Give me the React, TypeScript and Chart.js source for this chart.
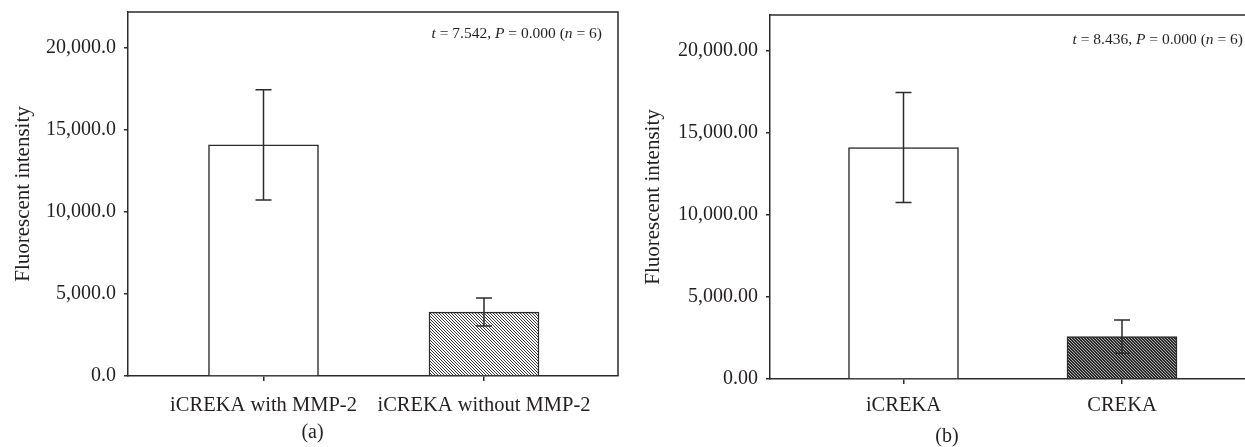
import React, { useEffect, useRef } from 'react';
import { Chart, registerables } from 'chart.js';

Chart.register(...registerables);

// ---- Data ----
const categoriesA = ['iCREKA with MMP-2', 'iCREKA without MMP-2'];
const meansA = [14100, 3900];
const errorsA = [3360, 855];

const categoriesB = ['iCREKA', 'CREKA'];
const meansB = [14120, 2580];
const errorsB = [3355, 1015];

const yTickValues = [0, 5000, 10000, 15000, 20000];
const yMax = 22200;

const statA = [
  { t: 't', i: true }, { t: ' = 7.542, ', i: false }, { t: 'P', i: true },
  { t: ' = 0.000 (', i: false }, { t: 'n', i: true }, { t: ' = 6)', i: false },
];
const statB = [
  { t: 't', i: true }, { t: ' = 8.436, ', i: false }, { t: 'P', i: true },
  { t: ' = 0.000 (', i: false }, { t: 'n', i: true }, { t: ' = 6)', i: false },
];

const FONT = "'Liberation Serif', 'Times New Roman', serif";
const TEXT = '#231f20';
const LINE = '#2b2b2b';

function makeHatch(bg: string, fg: string, size: number) {
  const c = document.createElement('canvas');
  c.width = size;
  c.height = size;
  const g = c.getContext('2d')!;
  g.fillStyle = bg;
  g.fillRect(0, 0, size, size);
  g.fillStyle = fg;
  for (let i = 0; i < size; i++) g.fillRect(i, i, 1, 1);
  return g.createPattern(c, 'repeat');
}

interface PanelCfg {
  categories: string[];
  means: number[];
  errors: number[];
  decimals: number;
  fills: any[];
  stat: { t: string; i: boolean }[];
  statX: number;
  statY: number;
  sub: string;
  subX: number;
  subY: number;
  padTop: number;
  padRight: number;
  yWidth: number;
  xHeight: number;
  xMin: number;
  xMax: number;
  titlePad: number;
  tickPad: number;
  rightBorder: boolean;
}

function buildChart(canvas: HTMLCanvasElement, cfg: PanelCfg) {
  const errPlugin = {
    id: 'errs',
    afterDatasetsDraw(chart: any) {
      const ctx = chart.ctx;
      const xs = chart.scales.x;
      const ys = chart.scales.y;
      ctx.save();
      ctx.strokeStyle = LINE;
      ctx.lineWidth = 1.5;
      cfg.means.forEach((m, i) => {
        const x = xs.getPixelForValue(i + 1);
        const yt = ys.getPixelForValue(m + cfg.errors[i]);
        const yb = ys.getPixelForValue(m - cfg.errors[i]);
        ctx.beginPath();
        ctx.moveTo(x, yt);
        ctx.lineTo(x, yb);
        ctx.moveTo(x - 8, yt);
        ctx.lineTo(x + 8, yt);
        ctx.moveTo(x - 8, yb);
        ctx.lineTo(x + 8, yb);
        ctx.stroke();
      });
      ctx.restore();
    },
    afterDraw(chart: any) {
      const ctx = chart.ctx;
      const a = chart.chartArea;
      ctx.save();
      ctx.strokeStyle = LINE;
      ctx.lineWidth = 1.5;
      ctx.beginPath();
      ctx.moveTo(a.left, a.top);
      ctx.lineTo(cfg.rightBorder ? a.right : chart.width, a.top);
      if (cfg.rightBorder) ctx.lineTo(a.right, a.bottom);
      ctx.stroke();
      // stat annotation (right aligned)
      ctx.fillStyle = TEXT;
      ctx.textBaseline = 'middle';
      const fs = 15.5;
      let total = 0;
      cfg.stat.forEach((s) => {
        ctx.font = `${s.i ? 'italic ' : ''}${fs}px ${FONT}`;
        total += ctx.measureText(s.t).width;
      });
      let x = cfg.statX - total;
      cfg.stat.forEach((s) => {
        ctx.font = `${s.i ? 'italic ' : ''}${fs}px ${FONT}`;
        ctx.fillText(s.t, x, cfg.statY);
        x += ctx.measureText(s.t).width;
      });
      // sub label
      ctx.font = `20px ${FONT}`;
      ctx.textAlign = 'center';
      ctx.fillText(cfg.sub, cfg.subX, cfg.subY);
      ctx.restore();
    },
  };

  return new Chart(canvas, {
    type: 'bar',
    data: {
      datasets: [
        {
          data: cfg.means.map((m, i) => ({ x: i + 1, y: m })),
          backgroundColor: cfg.fills,
          borderColor: LINE,
          borderWidth: 1.5,
          barThickness: 110,
        },
      ],
    },
    options: {
      animation: false,
      responsive: false,
      layout: { padding: { top: cfg.padTop, right: cfg.padRight, left: 0, bottom: 0 } },
      plugins: { legend: { display: false }, tooltip: { enabled: false } },
      scales: {
        x: {
          type: 'linear',
          min: cfg.xMin,
          max: cfg.xMax,
          offset: false,
          afterBuildTicks: (s: any) => {
            s.ticks = cfg.categories.map((_, i) => ({ value: i + 1 }));
          },
          afterFit: (s: any) => {
            s.height = cfg.xHeight;
            s.paddingLeft = 0;
            s.paddingRight = 0;
          },
          ticks: {
            callback: (v: any) => cfg.categories[Math.round(v) - 1] ?? '',
            font: { family: FONT, size: 20.5 },
            color: TEXT,
            padding: cfg.tickPad,
            maxRotation: 0,
            autoSkip: false,
          },
          grid: {
            offset: false,
            drawOnChartArea: false,
            drawTicks: true,
            tickLength: 5,
            color: LINE,
            lineWidth: 1.5,
          },
          border: { display: true, color: LINE, width: 1.5 },
        },
        y: {
          type: 'linear',
          min: 0,
          max: yMax,
          afterBuildTicks: (s: any) => {
            s.ticks = yTickValues.map((v) => ({ value: v }));
          },
          afterFit: (s: any) => {
            s.width = cfg.yWidth;
            s.paddingTop = 0;
            s.paddingBottom = 0;
          },
          ticks: {
            callback: (v: any) =>
              Number(v).toLocaleString('en-US', {
                minimumFractionDigits: cfg.decimals,
                maximumFractionDigits: cfg.decimals,
              }),
            font: { family: FONT, size: 20 },
            color: TEXT,
            padding: 8,
          },
          grid: {
            drawOnChartArea: false,
            drawTicks: true,
            tickLength: 4,
            color: LINE,
            lineWidth: 1.5,
          },
          border: { display: true, color: LINE, width: 1.5 },
          title: {
            display: true,
            text: 'Fluorescent intensity',
            font: { family: FONT, size: 21 },
            color: TEXT,
            padding: { top: cfg.titlePad, bottom: 0 },
          },
        },
      },
    },
    plugins: [errPlugin],
  } as any);
}

export default function App() {
  const refA = useRef<HTMLCanvasElement>(null);
  const refB = useRef<HTMLCanvasElement>(null);

  useEffect(() => {
    const lightHatch = makeHatch('#ffffff', '#3a3a3a', 3);
    const darkHatch = makeHatch('#2a2a2a', '#b0b0b0', 3);
    const a = buildChart(refA.current!, {
      categories: categoriesA,
      means: meansA,
      errors: errorsA,
      decimals: 1,
      fills: ['#ffffff', lightHatch],
      stat: statA,
      statX: 602,
      statY: 34,
      sub: '(a)',
      subX: 312.5,
      subY: 433,
      padTop: 12,
      padRight: 22,
      yWidth: 128,
      xHeight: 447 - 376,
      xMin: 1 - 135.5 / 220.5,
      xMax: 2 + 134 / 220.5,
      titlePad: 11,
      tickPad: 12,
      rightBorder: true,
    });
    const b = buildChart(refB.current!, {
      categories: categoriesB,
      means: meansB,
      errors: errorsB,
      decimals: 2,
      fills: ['#ffffff', darkHatch],
      stat: statB,
      statX: 1243 - 640,
      statY: 40,
      sub: '(b)',
      subX: 947 - 640,
      subY: 437,
      padTop: 15,
      padRight: 0,
      yWidth: 130,
      xHeight: 447 - 379,
      xMin: 1 - 133.5 / 218.5,
      xMax: 2 + 123 / 218.5,
      titlePad: 1,
      tickPad: 9,
      rightBorder: false,
    });
    return () => {
      a.destroy();
      b.destroy();
    };
  }, []);

  return (
    <div style={{ position: 'fixed', left: 0, top: 0, width: 1245, height: 447, background: '#fff' }}>
      <canvas ref={refA} width={640} height={447} style={{ position: 'absolute', left: 0, top: 0 }} />
      <canvas ref={refB} width={605} height={447} style={{ position: 'absolute', left: 640, top: 0 }} />
    </div>
  );
}
